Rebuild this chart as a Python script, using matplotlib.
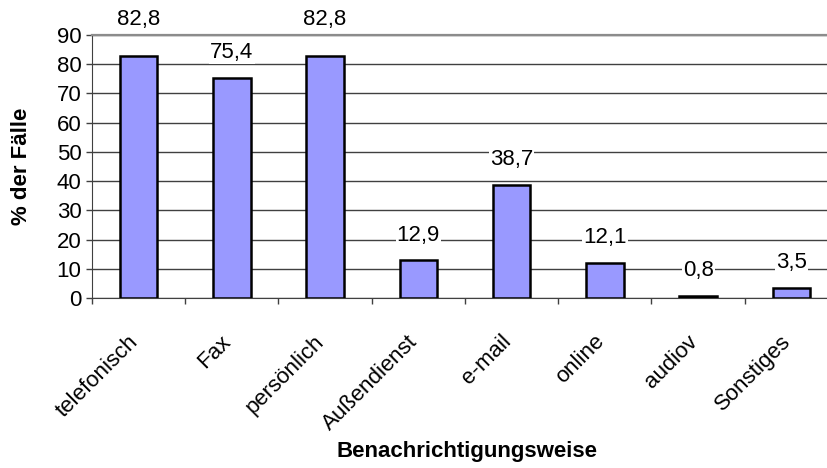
import matplotlib
matplotlib.use("Agg")
import matplotlib.pyplot as plt
import numpy as np

categories = ["telefonisch", "Fax", "persönlich", "Außendienst", "e-mail",
              "online", "audiov", "Sonstiges"]
values = [82.8, 75.4, 82.8, 12.9, 38.7, 12.1, 0.8, 3.5]
value_labels = ["82,8", "75,4", "82,8", "12,9", "38,7", "12,1", "0,8", "3,5"]
y_ticks = [0, 10, 20, 30, 40, 50, 60, 70, 80, 90]

plt.rcParams['font.family'] = ['Liberation Sans', 'DejaVu Sans']
FS = 16

W, H = 828, 468
fig = plt.figure(figsize=(W / 100, H / 100), dpi=100)
left, right, top, bottom = 92, 838, 35, 298
ax = fig.add_axes([left / W, 1 - bottom / H, (right - left) / W, (bottom - top) / H])

x = np.arange(len(categories))
ax.bar(x, values, width=0.4, color='#9999FF', edgecolor='black', linewidth=1.8, zorder=3)

ymax = y_ticks[-1]
for xi, v, lab in zip(x, values, value_labels):
    # labels that would collide with the top border are lifted above the plot area
    off = 26.5 if v > ymax - 10 else 18
    ax.annotate(lab, (xi, v), xytext=(0, off), textcoords='offset points',
                ha='center', va='center', fontsize=FS, annotation_clip=False,
                bbox=dict(boxstyle='square,pad=0.05', fc='white', ec='none'),
                zorder=4)

ax.set_xlim(-0.5, len(categories) - 0.5)
ax.set_ylim(0, ymax)
ax.set_yticks(y_ticks)
ax.tick_params(axis='y', labelsize=FS, length=4.5, width=1, direction='out', pad=3,
               color='#404040')
ax.yaxis.grid(True, color='#404040', linewidth=1, zorder=0)
ax.set_axisbelow(True)

ax.set_xticks(x)
ax.set_xticklabels(categories, rotation=45, ha='right', va='baseline',
                   rotation_mode='anchor', fontsize=FS)
ax.tick_params(axis='x', length=0, pad=32)
ax.set_xticks(np.arange(len(categories) + 1) - 0.5, minor=True)
ax.tick_params(axis='x', which='minor', length=4.5, width=1, direction='out',
               color='#404040')

ax.spines['right'].set_visible(False)
ax.spines['top'].set_color('#8c8c8c')
ax.spines['top'].set_linewidth(1.6)
ax.spines['left'].set_color('#404040')
ax.spines['bottom'].set_color('#404040')

ax.set_ylabel('% der Fälle', fontsize=FS, fontweight='bold')
ax.yaxis.set_label_coords(-(left - 22) / (right - left), 0.5)
ax.yaxis.label.set_va('center')
ax.set_xlabel('Benachrichtigungsweise', fontsize=FS, fontweight='bold')
ax.xaxis.set_label_coords((467 - left) / (right - left), -(452 - bottom) / (bottom - top))
ax.xaxis.label.set_va('center')

fig.savefig('out.png', dpi=100)
